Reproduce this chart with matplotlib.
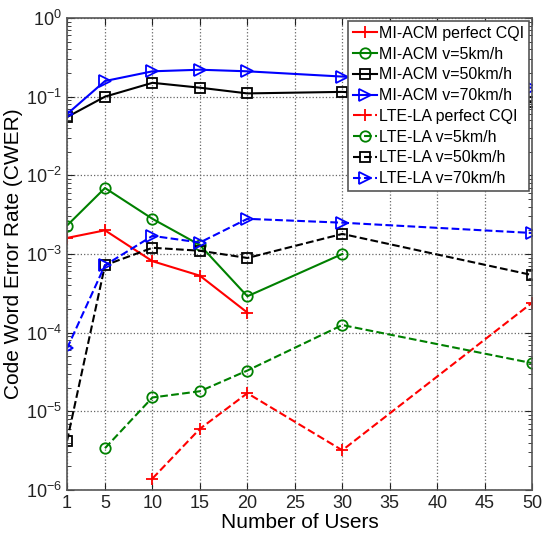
import matplotlib
matplotlib.use("Agg")
import matplotlib.pyplot as plt
from matplotlib.ticker import LogLocator, NullFormatter

plt.rcParams["font.family"] = ["Liberation Sans", "DejaVu Sans"]
plt.rcParams["mathtext.fontset"] = "custom"
plt.rcParams["mathtext.rm"] = "Liberation Sans"
plt.rcParams["mathtext.it"] = "Liberation Sans:italic"

# CWER vs number of users for the two link-adaptation schemes
users_full = [1, 5, 10, 15, 20, 30, 50]

mi_perfect_x = [1, 5, 10, 15, 20]
mi_perfect = [1.6e-3, 2.0e-3, 8.1e-4, 5.3e-4, 1.8e-4]

mi_v5_x = [1, 5, 10, 15, 20, 30]
mi_v5 = [2.3e-3, 6.9e-3, 2.8e-3, 1.3e-3, 2.9e-4, 1.0e-3]

mi_v50 = [5.5e-2, 0.10, 0.15, 0.13, 0.11, 0.115, 0.085]
mi_v70 = [0.06, 0.158, 0.21, 0.22, 0.21, 0.18, 0.13]

lte_perfect_x = [10, 15, 20, 30, 50]
lte_perfect = [1.4e-6, 6.0e-6, 1.7e-5, 3.2e-6, 2.4e-4]

lte_v5_x = [5, 10, 15, 20, 30, 50]
lte_v5 = [3.4e-6, 1.5e-5, 1.8e-5, 3.3e-5, 1.25e-4, 4.1e-5]

lte_v50 = [4.2e-6, 7.2e-4, 1.2e-3, 1.1e-3, 8.9e-4, 1.8e-3, 5.4e-4]
lte_v70 = [6.3e-5, 7.2e-4, 1.7e-3, 1.4e-3, 2.8e-3, 2.5e-3, 1.85e-3]

fig = plt.figure(figsize=(5.48, 5.37), dpi=100)
ax = fig.add_axes([0.1223, 0.0875, 0.8487, 0.879])

lw = 1.5
mk = dict(markerfacecolor="none", markeredgewidth=1.3)

ax.plot(mi_perfect_x, mi_perfect, "-", color="red", marker="+", ms=9, lw=lw,
        label="MI-ACM perfect CQI", **mk)
ax.plot(mi_v5_x, mi_v5, "-", color="green", marker="o", ms=7.5, lw=lw,
        label="MI-ACM v=5km/h", **mk)
ax.plot(users_full, mi_v50, "-", color="black", marker="s", ms=7, lw=lw,
        label="MI-ACM v=50km/h", **mk)
ax.plot(users_full, mi_v70, "-", color="blue", marker=">", ms=8.5, lw=lw,
        label="MI-ACM v=70km/h", **mk)
ax.plot(lte_perfect_x, lte_perfect, "--", color="red", marker="+", ms=9, lw=lw,
        label="LTE-LA perfect CQI", **mk)
ax.plot(lte_v5_x, lte_v5, "--", color="green", marker="o", ms=7.5, lw=lw,
        label="LTE-LA v=5km/h", **mk)
ax.plot(users_full, lte_v50, "--", color="black", marker="s", ms=7, lw=lw,
        label="LTE-LA v=50km/h", **mk)
ax.plot(users_full, lte_v70, "--", color="blue", marker=">", ms=8.5, lw=lw,
        label="LTE-LA v=70km/h", **mk)

ax.set_yscale("log")
ax.set_xlim(1, 50)
ax.set_ylim(1e-6, 1e0)
ax.set_xticks([1, 5, 10, 15, 20, 25, 30, 35, 40, 45, 50])
ax.yaxis.set_major_locator(LogLocator(base=10, numticks=10))
ax.yaxis.set_minor_locator(LogLocator(base=10, subs=range(2, 10), numticks=10))
ax.yaxis.set_minor_formatter(NullFormatter())

ax.grid(True, which="major", linestyle=":", color="#666666", linewidth=0.9)
ax.tick_params(direction="in", top=True, right=True, which="both", labelsize=13,
               colors="#222222")
ax.tick_params(which="major", length=5)
ax.tick_params(which="minor", length=3)
for s in ax.spines.values():
    s.set_color("#555555")
    s.set_linewidth(1.2)

ax.set_xlabel("Number of Users", fontsize=15, labelpad=1)
ax.set_ylabel("Code Word Error Rate (CWER)", fontsize=15, labelpad=2)

leg = ax.legend(loc="upper right", fontsize=11.5, handlelength=1.5, handletextpad=0.15,
                borderpad=0.3, labelspacing=0.36, borderaxespad=0.2,
                fancybox=False, framealpha=1)
leg.get_frame().set_edgecolor("#555555")
leg.get_frame().set_linewidth(1.2)

fig.savefig("out.png", dpi=100)
